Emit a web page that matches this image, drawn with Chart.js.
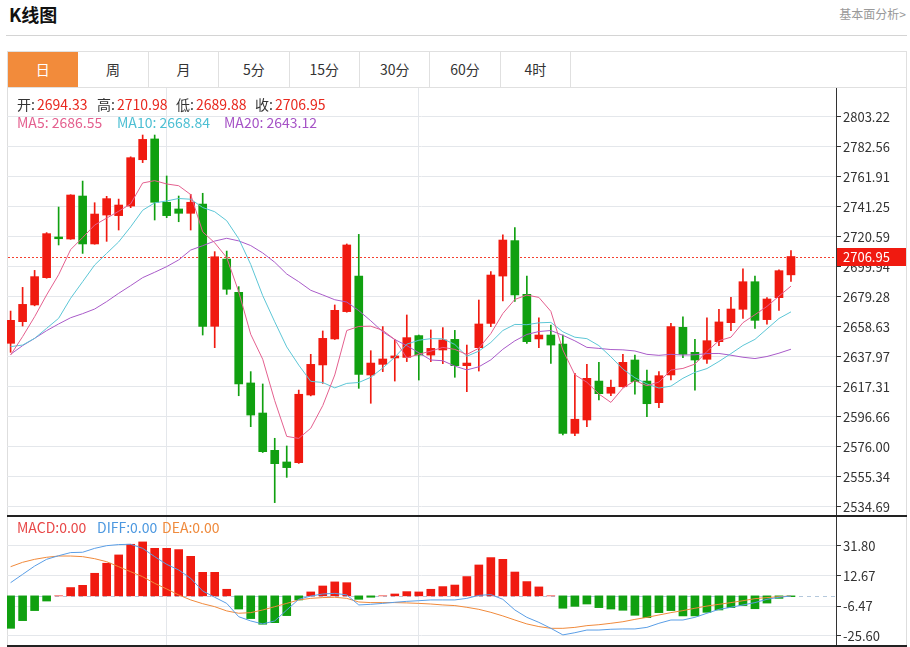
<!DOCTYPE html>
<html>
<head>
<meta charset="utf-8">
<script src="https://cdn.jsdelivr.net/npm/chart.js@4.4.1/dist/chart.umd.min.js"></script>
<style>
  body { margin: 0; background: #fff; font-family: "Noto Sans CJK SC", "Noto Sans", sans-serif; }
  #page { position: relative; width: 910px; height: 647px; overflow: hidden; }
  .abs { position: absolute; white-space: nowrap; }
  .title { left: 9px; top: 3px; font-size: 18px; font-weight: bold; color: #111; line-height: 22px; }
  .more { right: 4px; top: 5px; font-size: 12px; color: #999; line-height: 18px; }
  .hr { left: 6px; top: 35px; width: 901px; height: 1px; background: #d4d4d4; }
  .frame { left: 7px; top: 51px; width: 900px; height: 596px; border: 1px solid #dedede; box-sizing: border-box; }
  .tabs { left: 7px; top: 51px; width: 900px; height: 37px; border: 1px solid #e0e0e0; box-sizing: border-box; display: flex; }
  .tab { width: 69.4px; height: 35px; line-height: 35px; text-align: center; font-size: 14px; color: #333; border-right: 1px solid #e0e0e0; box-sizing: content-box; flex: none; }
  .tab.on { background: #f28b3b; color: #fff; border-right-color: #f28b3b; }
  .sep { left: 7px; width: 900px; height: 2px; background: #222; }
  .info { font-size: 14px; line-height: 18px; }
  .k { color: #333; }
  .v { color: #e8291f; margin-left: 2px; }
</style>
</head>
<body>
<div id="page">
  <div class="abs title">K线图</div>
  <div class="abs more">基本面分析&gt;</div>
  <div class="abs hr"></div>
  <div class="abs frame"></div>
  <div class="abs tabs" id="tabs"></div>
  <canvas id="kline" class="abs" width="906" height="428" style="left:0;top:88px"></canvas>
  <canvas id="macd" class="abs" width="906" height="128" style="left:0;top:517px"></canvas>
  <div class="abs sep" style="top:515px"></div>
  <div class="abs sep" style="top:645px"></div>
  <div id="labels"></div>
</div>
<script>
// 周期标签
const tabNames = ['日', '周', '月', '5分', '15分', '30分', '60分', '4时'];

// 日K数据 (66 根)
const opens = [2647.2, 2662.1, 2673.6, 2692.4, 2720.4, 2719.0, 2748.6, 2715.6, 2735.5, 2735.1,
  2741.7, 2773.6, 2787.9, 2744.3, 2739.7, 2736.7, 2743.1, 2658.9, 2705.2, 2682.3,
  2619.9, 2599.2, 2573.5, 2565.5, 2565.0, 2611.6, 2632.3, 2650.2, 2669.0, 2693.5,
  2625.4, 2632.7, 2637.1, 2637.5, 2652.5, 2639.1, 2642.6, 2649.9, 2631.8, 2644.2,
  2660.9, 2693.5, 2717.9, 2680.9, 2650.2, 2652.9, 2646.7, 2585.2, 2594.4, 2621.2,
  2612.8, 2617.3, 2635.7, 2621.2, 2606.3, 2625.4, 2658.2, 2641.0, 2636.2, 2648.3,
  2661.4, 2670.6, 2689.6, 2663.5, 2678.6, 2694.33];
const highs = [2669.4, 2685.7, 2697.4, 2723.4, 2741.0, 2749.5, 2758.9, 2744.0, 2748.4, 2746.5,
  2775.6, 2790.6, 2790.6, 2762.4, 2748.6, 2749.8, 2750.5, 2710.3, 2710.7, 2686.2,
  2627.7, 2619.2, 2581.8, 2576.5, 2615.0, 2639.6, 2655.7, 2673.6, 2715.6, 2722.2,
  2642.1, 2658.7, 2649.9, 2666.7, 2652.9, 2656.4, 2658.0, 2656.1, 2646.0, 2677.0,
  2696.5, 2721.8, 2726.8, 2693.5, 2664.8, 2659.8, 2652.9, 2626.5, 2632.7, 2634.1,
  2621.9, 2639.6, 2639.1, 2628.8, 2627.7, 2660.9, 2665.5, 2649.9, 2664.8, 2670.6,
  2678.8, 2698.4, 2693.5, 2678.6, 2697.7, 2710.98];
const lows = [2641.0, 2659.1, 2673.0, 2692.0, 2714.9, 2718.8, 2709.1, 2715.4, 2717.4, 2725.2,
  2740.6, 2771.6, 2732.1, 2733.7, 2730.9, 2725.2, 2652.9, 2644.2, 2680.9, 2611.1,
  2589.8, 2572.0, 2537.5, 2554.9, 2564.5, 2611.0, 2619.6, 2649.8, 2668.6, 2616.2,
  2605.9, 2627.7, 2621.2, 2634.6, 2621.9, 2634.6, 2633.2, 2623.8, 2613.9, 2628.1,
  2658.7, 2676.3, 2676.1, 2647.2, 2644.2, 2633.4, 2584.1, 2583.6, 2589.8, 2608.2,
  2611.1, 2617.0, 2612.1, 2596.7, 2602.9, 2621.9, 2637.3, 2615.0, 2633.4, 2645.6,
  2655.9, 2664.4, 2657.5, 2660.3, 2669.9, 2689.88];
const closes = [2663.0, 2674.0, 2693.1, 2722.7, 2719.2, 2749.3, 2715.6, 2736.2, 2746.8, 2742.4,
  2775.0, 2787.6, 2744.3, 2735.1, 2736.7, 2744.3, 2658.9, 2706.8, 2684.4, 2619.2,
  2597.8, 2572.6, 2564.3, 2561.6, 2612.1, 2632.7, 2650.6, 2669.9, 2714.9, 2625.8,
  2633.6, 2636.4, 2638.5, 2651.1, 2639.1, 2643.7, 2649.5, 2631.8, 2633.6, 2660.5,
  2694.2, 2718.3, 2680.5, 2648.3, 2652.9, 2646.0, 2585.2, 2594.9, 2623.1, 2612.5,
  2616.9, 2634.1, 2620.8, 2605.6, 2624.9, 2658.7, 2639.6, 2635.7, 2649.0, 2661.9,
  2670.8, 2689.6, 2663.0, 2677.7, 2697.2, 2706.95];

// 均线
const ma5 = [2639.1, 2651.8, 2665.5, 2680.5, 2694.4, 2711.7, 2720.0, 2728.6, 2733.4, 2738.1,
  2743.2, 2757.6, 2759.2, 2756.9, 2755.7, 2749.6, 2723.9, 2716.4, 2706.2, 2682.7,
  2653.4, 2636.2, 2607.7, 2583.1, 2581.7, 2588.7, 2604.3, 2625.4, 2656.0, 2658.8,
  2659.0, 2656.1, 2649.8, 2637.1, 2639.7, 2641.8, 2644.4, 2643.0, 2639.5, 2643.8,
  2653.9, 2667.7, 2677.4, 2680.4, 2678.8, 2669.2, 2642.6, 2625.5, 2620.4, 2612.3,
  2606.5, 2616.3, 2621.5, 2618.0, 2620.5, 2628.8, 2629.9, 2632.9, 2641.6, 2649.0,
  2651.4, 2661.4, 2666.9, 2672.6, 2679.7, 2686.55];
const ma10 = [2644.9, 2646.0, 2650.6, 2657.5, 2664.4, 2678.2, 2689.6, 2701.1, 2709.1, 2717.0,
  2727.4, 2738.8, 2743.9, 2745.2, 2746.9, 2746.4, 2740.7, 2737.8, 2731.6, 2719.2,
  2701.5, 2680.0, 2662.0, 2644.7, 2632.2, 2621.0, 2620.2, 2616.5, 2619.6, 2620.2,
  2623.8, 2630.2, 2637.6, 2646.6, 2649.3, 2650.4, 2650.3, 2646.4, 2638.3, 2641.8,
  2647.8, 2656.0, 2660.2, 2660.0, 2661.3, 2661.6, 2655.1, 2651.4, 2650.4, 2645.6,
  2637.9, 2629.4, 2623.5, 2619.2, 2616.4, 2617.7, 2623.1, 2627.2, 2629.8, 2634.7,
  2640.1, 2645.7, 2649.9, 2657.1, 2664.3, 2668.84];
const ma20 = [2639.6, 2645.6, 2650.6, 2655.9, 2660.5, 2664.8, 2667.6, 2670.8, 2675.9, 2681.6,
  2686.9, 2692.4, 2696.1, 2700.0, 2704.6, 2711.4, 2714.4, 2717.6, 2719.5, 2717.7,
  2714.5, 2709.4, 2703.0, 2694.9, 2689.6, 2683.7, 2680.5, 2677.2, 2675.6, 2669.7,
  2662.7, 2655.1, 2649.8, 2645.6, 2640.7, 2635.7, 2635.2, 2631.5, 2628.9, 2631.0,
  2635.8, 2643.1, 2648.9, 2653.3, 2655.3, 2656.0, 2652.7, 2648.9, 2644.4, 2643.7,
  2642.9, 2642.7, 2641.9, 2639.6, 2638.9, 2639.6, 2639.1, 2639.3, 2640.1, 2640.2,
  2639.0, 2637.6, 2636.7, 2638.1, 2640.4, 2643.12];

// MACD
const macdHist = [-20.7, -15.8, -9.4, -3.3, 0, 5.3, 6.7, 14.4, 20.8, 26.1,
  32.9, 34.4, 30.3, 30.3, 29.5, 25.2, 15.0, 15.0, 4.2, -8.4,
  -14.5, -18.1, -17.1, -12.6, -2.6, 2.5, 6.3, 8.9, 8.4, -2.2,
  -0.9, 0, 1.2, 2.7, 2.5, 4.2, 5.9, 6.9, 12.3, 19.7,
  24.4, 23.3, 15.2, 9.1, 5.7, 0, -7.9, -6.7, -5.2, -7.5,
  -8.4, -9.2, -12.4, -13.9, -10.7, -9.4, -12.8, -12.8, -10.5, -9.0,
  -7.5, -6.2, -8.2, -4.6, -1.6, -0.5];
const diff = [8.4, 13.7, 19.0, 23.3, 25.6, 27.6, 27.8, 30.3, 32.0, 32.7,
  32.9, 30.3, 25.0, 20.1, 16.5, 11.2, 3.1, -0.9, -4.8, -13.3,
  -16.0, -17.9, -16.0, -9.0, -2.2, -0.1, 1.2, 1.6, 0.6, -5.8,
  -5.4, -4.8, -4.1, -3.5, -3.1, -2.6, -2.6, -2.6, -1.6, 0.3,
  0.8, -2.2, -9.0, -13.7, -16.9, -20.7, -24.9, -23.5, -21.8, -21.8,
  -21.3, -21.1, -21.1, -20.1, -17.5, -15.4, -15.4, -13.7, -11.1, -8.6,
  -7.3, -5.8, -4.3, -2.2, -0.9, -0.1];
const dea = [18.6, 21.4, 23.3, 24.6, 25.4, 25.4, 25.0, 23.7, 21.8, 18.6,
  15.4, 12.2, 8.0, 4.4, 0.6, -2.6, -5.0, -6.9, -9.6, -11.1,
  -10.7, -9.0, -6.9, -4.8, -2.6, -1.6, -1.1, -0.9, -1.6, -3.9,
  -4.3, -4.3, -4.3, -4.5, -4.8, -5.2, -5.8, -6.2, -7.3, -8.6,
  -10.5, -12.8, -15.4, -17.9, -19.6, -20.7, -20.7, -20.1, -19.0, -18.4,
  -17.5, -16.5, -15.0, -13.7, -12.2, -10.7, -9.4, -7.9, -6.5, -5.4,
  -4.3, -3.1, -1.8, -1.1, -0.5, -0.1];

// 坐标轴刻度
const priceTicks = [2803.22, 2782.56, 2761.91, 2741.25, 2720.59, 2699.94, 2679.28,
  2658.63, 2637.97, 2617.31, 2596.66, 2576.00, 2555.34, 2534.69];
const macdTicks = [31.80, 12.67, -6.47, -25.60];
const monthStarts = [13, 34];

const RED = '#f01a10';
const GREEN = '#10a010';
const FONT = '"Noto Sans CJK SC", "Noto Sans", sans-serif';
Chart.defaults.font.family = FONT;

const last = opens.length - 1;
const lastClose = closes[last];

// 顶部tab
document.getElementById('tabs').innerHTML = tabNames
  .map((t, i) => `<div class="tab${i === 0 ? ' on' : ''}">${t}</div>`).join('');

// 文字信息
const labels = [
  { x: 17, y: 95, html: `<span class="k">开:</span><span class="v">${opens[last].toFixed(2)}</span>` },
  { x: 97, y: 95, html: `<span class="k">高:</span><span class="v">${highs[last].toFixed(2)}</span>` },
  { x: 176, y: 95, html: `<span class="k">低:</span><span class="v">${lows[last].toFixed(2)}</span>` },
  { x: 255, y: 95, html: `<span class="k">收:</span><span class="v">${lastClose.toFixed(2)}</span>` },
  { x: 17, y: 113, html: `<span style="color:#e4608f">MA5: ${ma5[last].toFixed(2)}</span>` },
  { x: 117, y: 113, html: `<span style="color:#4dbfd3">MA10: ${ma10[last].toFixed(2)}</span>` },
  { x: 224, y: 113, html: `<span style="color:#a653c6">MA20: ${ma20[last].toFixed(2)}</span>` },
  { x: 17, y: 518, html: `<span style="color:#e84848">MACD:0.00</span>` },
  { x: 97, y: 518, html: `<span style="color:#4c98e0">DIFF:0.00</span>` },
  { x: 162, y: 518, html: `<span style="color:#ef8a3c">DEA:0.00</span>` }
];
document.getElementById('labels').innerHTML = labels
  .map(l => `<div class="abs info" style="left:${l.x}px;top:${l.y}px">${l.html}</div>`).join('');

function xAxis() {
  return {
    type: 'linear', min: -0.3, max: 68.75, offset: false,
    afterBuildTicks: s => { s.ticks = monthStarts.map(v => ({ value: v })); },
    afterFit: s => { s.height = 0; s.paddingLeft = 0; s.paddingRight = 0; },
    grid: { color: '#e4e7eb', drawTicks: false, offset: false },
    border: { display: false },
    ticks: { display: false }
  };
}

function yAxis(min, max, tickList) {
  return {
    position: 'right', min, max,
    afterBuildTicks: s => { s.ticks = tickList.map(v => ({ value: v })); },
    afterFit: s => { s.width = 70; s.paddingTop = 0; s.paddingBottom = 0; },
    grid: { color: '#e4e7eb', tickColor: '#333', tickLength: 5 },
    border: { color: '#333', width: 1 },
    ticks: { color: '#333', padding: 2, font: { size: 13 }, autoSkip: false, callback: v => Number(v).toFixed(2) }
  };
}

const pts = arr => arr.map((v, i) => ({ x: i, y: v }));
const candleColors = opens.map((o, i) => closes[i] >= o ? RED : GREEN);

function maLine(data, color) {
  return { type: 'line', data: pts(data), borderColor: color, borderWidth: 1, pointRadius: 0, tension: 0, order: 0 };
}

// 最新价虚线和标签
const lastPricePlugin = {
  id: 'lastPrice',
  beforeDatasetsDraw(chart) {
    const { ctx, chartArea, scales } = chart;
    const y = Math.round(scales.y.getPixelForValue(lastClose));
    ctx.save();
    ctx.fillStyle = '#f5402f';
    for (let x = 8; x < chartArea.right; x += 4) {
      ctx.fillRect(x, y, 2, 1);
    }
    ctx.restore();
  },
  afterDraw(chart) {
    const { ctx, chartArea, scales } = chart;
    const y = Math.round(scales.y.getPixelForValue(lastClose));
    ctx.save();
    ctx.fillStyle = RED;
    ctx.fillRect(chartArea.right + 1, y - 9, 69, 18);
    ctx.fillStyle = '#fff';
    ctx.font = '13px ' + FONT;
    ctx.textBaseline = 'middle';
    ctx.fillText(lastClose.toFixed(2), chartArea.right + 7, y + 0.5);
    ctx.restore();
  }
};

// MACD 零轴虚线
const zeroLinePlugin = {
  id: 'zeroLine',
  beforeDatasetsDraw(chart) {
    const { ctx, chartArea, scales } = chart;
    const y = Math.round(scales.y.getPixelForValue(0)) + 0.5;
    ctx.save();
    ctx.strokeStyle = '#b4c8dc';
    ctx.lineWidth = 1;
    ctx.setLineDash([4, 4]);
    ctx.beginPath();
    ctx.moveTo(chartArea.left, y);
    ctx.lineTo(chartArea.right, y);
    ctx.stroke();
    ctx.restore();
  }
};

const common = {
  responsive: false,
  animation: false,
  devicePixelRatio: 1,
  layout: { padding: { left: 7, right: 0, top: 0, bottom: 0 } },
  plugins: { legend: { display: false }, tooltip: { enabled: false } }
};

new Chart(document.getElementById('kline'), {
  type: 'bar',
  data: {
    datasets: [
      maLine(ma5, '#e4608f'),
      maLine(ma10, '#5cc6d6'),
      maLine(ma20, '#a95bc9'),
      {
        data: opens.map((o, i) => ({ x: i, y: [o, closes[i]] })),
        backgroundColor: candleColors, barThickness: 8, minBarLength: 1, grouped: false, order: 1
      },
      {
        data: lows.map((l, i) => ({ x: i, y: [l, highs[i]] })),
        backgroundColor: candleColors, barThickness: 1, grouped: false, order: 2
      }
    ]
  },
  options: {
    ...common,
    scales: { x: xAxis(), y: yAxis(2528.29, 2822.98, priceTicks) }
  },
  plugins: [lastPricePlugin]
});

new Chart(document.getElementById('macd'), {
  type: 'bar',
  data: {
    datasets: [
      { type: 'line', data: pts(diff), borderColor: '#5a9ee6', borderWidth: 1, pointRadius: 0, tension: 0, order: 0 },
      { type: 'line', data: pts(dea), borderColor: '#f08a3c', borderWidth: 1, pointRadius: 0, tension: 0, order: 0 },
      {
        data: pts(macdHist),
        backgroundColor: macdHist.map(v => v >= 0 ? RED : GREEN),
        barThickness: 8, grouped: false, order: 1
      }
    ]
  },
  options: {
    ...common,
    scales: { x: xAxis(), y: yAxis(-31.34, 50.29, macdTicks) }
  },
  plugins: [zeroLinePlugin]
});
</script>
</body>
</html>
